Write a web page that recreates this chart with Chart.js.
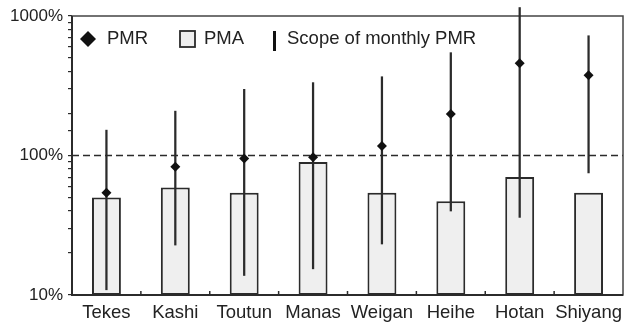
<!DOCTYPE html>
<html>
<head>
<meta charset="utf-8">
<script src="https://cdn.jsdelivr.net/npm/chart.js@4/dist/chart.umd.min.js"></script>
<style>
  html, body { margin: 0; padding: 0; background: #fff; }
  #wrap { width: 625px; height: 324px; }
</style>
</head>
<body>
<div id="wrap"><canvas id="chart"></canvas></div>
<script>
// data (percent)
var stations = ["Tekes", "Kashi", "Toutun", "Manas", "Weigan", "Heihe", "Hotan", "Shiyang"];
var pma = [50, 59, 54, 90, 54, 47, 70, 54];
var pmr = [54, 83, 95, 97, 117, 198, 458, 376];
var monthlyLow = [10.9, 22.8, 13.8, 15.4, 23.2, 40, 36, 75];
var monthlyHigh = [152, 208, 298, 333, 367, 546, 1150, 722];
var yTickValues = [10, 100, 1000];
var yTickLabels = ["10%", "100%", "1000%"];
var refLine = 100;

var ink = "#2b2b2b";
var family = "'Liberation Sans', Arial, sans-serif";
var font = { family: family, size: 17 };
var bigFont = { family: family, size: 18.5 };
// tall line box instead of tick padding, so the last label adds no right padding
var xFont = { family: family, size: 18.5, lineHeight: 1.95 };

// frame, dashed 100% line, inward x ticks
var framePlugin = {
  id: "frame",
  beforeDatasetsDraw: function (chart) {
    var ctx = chart.ctx, a = chart.chartArea;
    var y = chart.scales.y.getPixelForValue(refLine);
    ctx.save();
    ctx.strokeStyle = ink;
    ctx.lineWidth = 1.5;
    ctx.setLineDash([7, 4]);
    ctx.beginPath();
    ctx.moveTo(a.left, y);
    ctx.lineTo(a.right, y);
    ctx.stroke();
    ctx.setLineDash([]);

    // little ticks between categories, pointing up
    var xs = chart.scales.x;
    ctx.lineWidth = 1.5;
    for (var i = 0; i < stations.length - 1; i++) {
      var x = (xs.getPixelForValue(i) + xs.getPixelForValue(i + 1)) / 2;
      ctx.beginPath();
      ctx.moveTo(x, a.bottom);
      ctx.lineTo(x, a.bottom - 4);
      ctx.stroke();
    }

    ctx.strokeStyle = "#444";
    ctx.lineWidth = 1.5;
    ctx.strokeRect(a.left, a.top, a.right - a.left, a.bottom - a.top);
    ctx.strokeStyle = ink;
    ctx.lineWidth = 2;
    ctx.beginPath();
    ctx.moveTo(a.left, a.top);
    ctx.lineTo(a.left, a.bottom);
    ctx.lineTo(a.right, a.bottom);
    ctx.stroke();
    ctx.restore();
  },
  afterDraw: function (chart) {
    // legend inside the plot
    var ctx = chart.ctx, a = chart.chartArea;
    var cy = a.top + 23;
    ctx.save();
    ctx.fillStyle = "#111";
    ctx.beginPath();
    var dx = a.left + 16;
    ctx.moveTo(dx - 8, cy);
    ctx.lineTo(dx, cy - 8);
    ctx.lineTo(dx + 8, cy);
    ctx.lineTo(dx, cy + 8);
    ctx.closePath();
    ctx.fill();

    ctx.fillStyle = "#efefef";
    ctx.strokeStyle = ink;
    ctx.lineWidth = 1.8;
    ctx.fillRect(a.left + 108, cy - 8, 15, 16);
    ctx.strokeRect(a.left + 108, cy - 8, 15, 16);

    ctx.fillStyle = "#111";
    ctx.fillRect(a.left + 201, cy - 8, 3, 20);

    ctx.fillStyle = "#222";
    ctx.font = bigFont.size + "px " + bigFont.family;
    ctx.textBaseline = "middle";
    ctx.fillText("PMR", a.left + 35, cy);
    ctx.fillText("PMA", a.left + 132, cy);
    ctx.fillText("Scope of monthly PMR", a.left + 215, cy);
    ctx.restore();
  }
};

new Chart(document.getElementById("chart"), {
  data: {
    labels: stations,
    datasets: [
      {
        type: "line",
        label: "PMR",
        data: pmr,
        showLine: false,
        pointStyle: "rectRot",
        pointRadius: 5,
        backgroundColor: "#111",
        borderColor: "#111",
        borderWidth: 0,
        order: 0
      },
      {
        type: "bar",
        label: "Scope of monthly PMR",
        data: monthlyLow.map(function (v, i) { return [v, monthlyHigh[i]]; }),
        backgroundColor: ink,
        borderWidth: 0,
        barThickness: 1.6,
        grouped: false,
        clip: false,
        order: 1
      },
      {
        type: "bar",
        label: "PMA",
        data: pma,
        backgroundColor: "#efefef",
        borderColor: ink,
        borderWidth: 2,
        borderSkipped: false,
        barPercentage: 0.42,
        categoryPercentage: 1,
        grouped: false,
        order: 2
      }
    ]
  },
  options: {
    responsive: true,
    maintainAspectRatio: false,
    animation: false,
    layout: { autoPadding: false, padding: { top: 16, right: 2, left: 0, bottom: 0 } },
    plugins: {
      legend: { display: false },
      tooltip: { enabled: false }
    },
    scales: {
      x: {
        type: "category",
        offset: true,
        grid: { display: false, drawTicks: false },
        border: { display: false },
        ticks: { color: "#222", font: xFont, padding: 0, maxRotation: 0, autoSkip: false },
        afterFit: function (scale) { scale.height = 29; }
      },
      y: {
        type: "logarithmic",
        min: 10,
        max: 1000,
        grid: { drawOnChartArea: false, drawTicks: true, tickLength: 4, color: ink, lineWidth: 1.2 },
        border: { display: false },
        ticks: {
          color: "#222",
          font: font,
          padding: 5,
          autoSkip: false,
          callback: function (value) {
            for (var i = 0; i < yTickValues.length; i++) {
              if (Math.abs(value - yTickValues[i]) < 1e-6) return yTickLabels[i];
            }
            return "";
          }
        },
        afterFit: function (scale) { scale.width = 72; }
      }
    }
  },
  plugins: [framePlugin]
});
</script>
</body>
</html>
